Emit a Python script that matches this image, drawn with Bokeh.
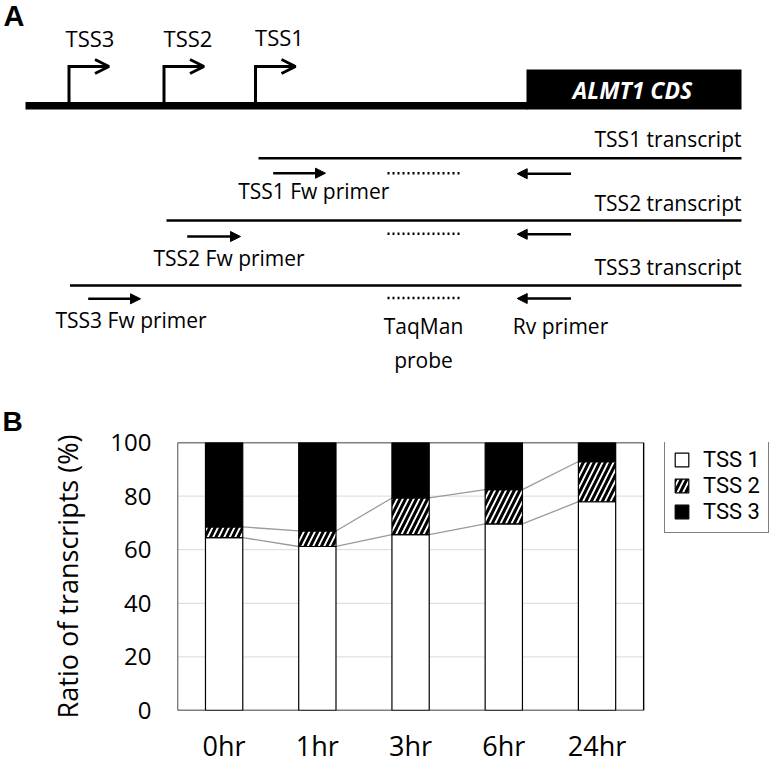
import numpy as np
from bokeh.plotting import figure
from bokeh.models import (Range1d, ColumnDataSource, Arrow, OpenHead, NormalHead,
                          FixedTicker, Legend, LegendItem)
from bokeh.embed import file_html
from bokeh.resources import INLINE
from bokeh.core.properties import value

FONT = "Open Sans"

# ---------------- Panel B data ----------------
times = ["0hr", "1hr", "3hr", "6hr", "24hr"]
tss1 = [64.5, 61.2, 65.6, 69.6, 77.9]
tss2 = [4.0, 5.8, 13.7, 12.8, 15.0]
tss3 = [31.5, 33.0, 20.7, 17.6, 7.1]
series_names = ["TSS 1", "TSS 2", "TSS 3"]
y_ticks = [0, 20, 40, 60, 80, 100]

# ---------------- Panel A text ----------------
tss_names = ["TSS3", "TSS2", "TSS1"]
transcript_names = ["TSS1 transcript", "TSS2 transcript", "TSS3 transcript"]
fw_names = ["TSS1 Fw primer", "TSS2 Fw primer", "TSS3 Fw primer"]
cds_name = "ALMT1 CDS"

# ---------------- Panel A layout (schematic positions, px) ----------------
tss_pos = [68.5, 163.5, 255]
tss_label_x = [89.5, 187.5, 279]
tss_label_y = [37, 37, 36]
tx_start = [258, 166, 69.5]
tx_y = [157.7, 220, 285]
tx_label_y = [138, 202, 266.5]
fw_x0 = [272.7, 186.7, 87.7]
fw_x1 = [325, 240, 140]
fw_y = [172.7, 236, 298.3]
fw_label_x = [237.7, 153, 55]
fw_label_y = [190, 257, 319]
probe_y = [172.7, 233.3, 297.5]

pA = figure(width=783, height=400, x_range=Range1d(0, 783), y_range=Range1d(400, 0),
            output_backend="svg", toolbar_location=None,
            x_axis_location=None, y_axis_location=None, min_border=0,
            outline_line_color=None)
pA.xgrid.visible = False
pA.ygrid.visible = False

# panel letter A
pA.text(x=[3], y=[15], text=["A"], text_font=value("Liberation Sans"),
        text_font_style="bold", text_font_size="29px", text_baseline="middle",
        text_align="left", text_color="black")

# backbone and CDS
pA.line([25, 527], [105.3, 105.3], line_width=7.5, line_color="black", line_cap="butt")
pA.quad(left=[526], right=[741], top=[69], bottom=[109], fill_color="black", line_color=None)
pA.text(x=[632], y=[89.5], text=[cds_name], text_font=value(FONT),
        text_font_style="bold italic", text_font_size="23px", text_color="white",
        text_align="center", text_baseline="middle")

# TSS bent arrows
pA.multi_line(xs=[[x, x, x + 34] for x in tss_pos], ys=[[103, 66, 66]] * 3,
              line_width=3, line_color="black", line_join="miter", line_cap="butt")
for x in tss_pos:
    pA.add_layout(Arrow(end=OpenHead(size=14, line_width=3, line_color="black"),
                        x_start=x + 28, y_start=66, x_end=x + 40, y_end=66,
                        line_width=3, line_color="black"))
pA.text(x=tss_label_x, y=tss_label_y, text=tss_names, text_font=value(FONT),
        text_font_size="22px", text_align="center", text_baseline="middle",
        text_color="black")

# transcripts
pA.multi_line(xs=[[s, 741] for s in tx_start], ys=[[y, y] for y in tx_y],
              line_width=2.5, line_color="black")
pA.text(x=[741] * 3, y=tx_label_y, text=transcript_names, text_font=value(FONT),
        text_font_size="21px", text_align="right", text_baseline="middle",
        text_color="black")

# forward primers
for a, b, y in zip(fw_x0, fw_x1, fw_y):
    pA.add_layout(Arrow(end=NormalHead(size=10, fill_color="black", line_color="black",
                                       line_width=1),
                        x_start=a, y_start=y, x_end=b, y_end=y,
                        line_width=2.5, line_color="black"))
pA.text(x=fw_label_x, y=fw_label_y, text=fw_names, text_font=value(FONT),
        text_font_size="21px", text_align="left", text_baseline="middle",
        text_color="black")

# probes
pA.multi_line(xs=[[387, 459]] * 3, ys=[[y, y] for y in probe_y],
              line_width=2.5, line_color="black", line_dash="2 3")

# reverse primers
for y in probe_y:
    pA.add_layout(Arrow(end=NormalHead(size=10, fill_color="black", line_color="black",
                                       line_width=1),
                        x_start=570.5, y_start=y + 0.5, x_end=516.7, y_end=y + 0.5,
                        line_width=2.5, line_color="black"))

pA.text(x=[423, 423, 560], y=[325, 359, 325], text=["TaqMan", "probe", "Rv primer"],
        text_font=value(FONT), text_font_size="21px", text_align="center",
        text_baseline="middle", text_color="black")

# ---------------- Panel B ----------------
bar_width = 0.4
n = len(times)
x_centers = np.arange(n) + 0.5
src = ColumnDataSource(dict(x=x_centers, tss1=tss1, tss2=tss2, tss3=tss3))

# the frame also holds the legend area to the right of the chart box
pB = figure(width=783, height=366, x_range=Range1d(0, n * 1.3), y_range=Range1d(0, 100),
            output_backend="svg", toolbar_location=None, title="B",
            min_border_left=177, min_border_right=0, min_border_top=40,
            min_border_bottom=54)
pB.title.align = "left"
pB.title.offset = -175
pB.title.standoff = 9
pB.title.vertical_align = "middle"
pB.title.text_font = "Liberation Sans"
pB.title.text_font_style = "bold"
pB.title.text_font_size = "28px"
pB.title.text_color = "black"

pB.xgrid.visible = False
pB.ygrid.visible = False
pB.outline_line_color = None

# horizontal gridlines limited to the chart box
grid_vals = y_ticks[1:-1]
pB.multi_line(xs=[[0, n]] * len(grid_vals), ys=[[v, v] for v in grid_vals],
              line_color="#d9d9d9", line_width=1)

# series lines (Excel-style connectors)
cum1 = np.array(tss1)
cum2 = cum1 + np.array(tss2)
half = bar_width / 2
seg_xs, seg_ys = [], []
for cum in (cum1, cum2):
    for i in range(n - 1):
        seg_xs.append([x_centers[i] + half, x_centers[i + 1] - half])
        seg_ys.append([cum[i], cum[i + 1]])
pB.multi_line(xs=seg_xs, ys=seg_ys, line_color="#9a9a9a", line_width=1.3)

bars = pB.vbar_stack(["tss1", "tss2", "tss3"], x="x", width=bar_width, source=src,
                     fill_color=["white", "white", "black"], line_color="black",
                     line_width=1.2, hatch_pattern=[None, "/", None], hatch_color="black",
                     hatch_scale=11, hatch_weight=3)

# chart box
pB.quad(left=[0], right=[n], bottom=[y_ticks[0]], top=[y_ticks[-1]], fill_color=None,
        line_color="black", line_width=1.4)

pB.axis.axis_line_color = None
pB.axis.major_tick_line_color = None
pB.axis.minor_tick_line_color = None
pB.axis.major_tick_out = 0
pB.axis.major_tick_in = 0
pB.axis.minor_tick_out = 0
pB.axis.minor_tick_in = 0

pB.yaxis.ticker = FixedTicker(ticks=y_ticks)
pB.yaxis.major_label_text_font = FONT
pB.yaxis.major_label_text_font_size = "24px"
pB.yaxis.major_label_text_color = "black"
pB.yaxis.major_label_standoff = 26
pB.yaxis.axis_label = "Ratio of transcripts (%)"
pB.yaxis.axis_label_text_font = FONT
pB.yaxis.axis_label_text_font_size = "27px"
pB.yaxis.axis_label_text_font_style = "normal"
pB.yaxis.axis_label_text_color = "black"
pB.yaxis.axis_label_standoff = 21

pB.xaxis.ticker = FixedTicker(ticks=list(x_centers))
pB.xaxis.major_label_overrides = {float(c): t for c, t in zip(x_centers, times)}
pB.xaxis.major_label_text_font = FONT
pB.xaxis.major_label_text_font_size = "27px"
pB.xaxis.major_label_text_color = "black"
pB.xaxis.major_label_standoff = 16

leg = Legend(items=[LegendItem(label=s, renderers=[r]) for s, r in zip(series_names, bars)],
             location=(487, 177), margin=0, padding=8, spacing=0,
             glyph_width=17, glyph_height=17, label_height=26, label_standoff=13,
             label_text_font="Roboto", label_text_font_size="22px",
             label_text_color="black", border_line_color="black", border_line_width=1,
             background_fill_color="white", background_fill_alpha=1)
pB.add_layout(leg, "center")

open("out.html", "w").write(file_html([pA, pB], INLINE))
